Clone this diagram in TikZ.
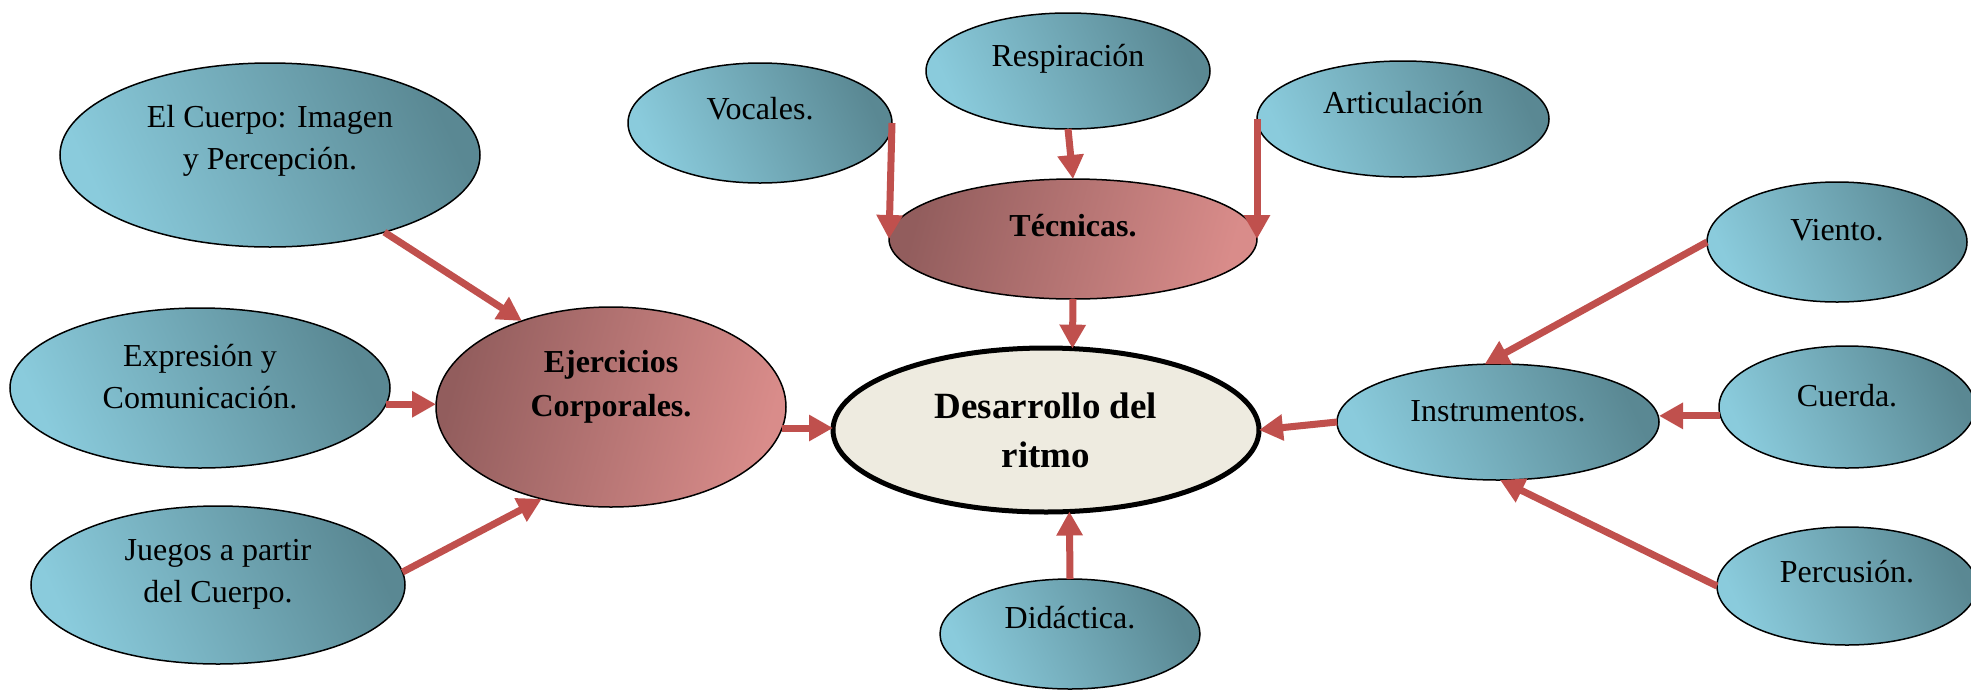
\documentclass[tikz,border=0pt]{standalone}
\usepackage{fontspec}
\setmainfont{Liberation Serif}
\usetikzlibrary{shapes.geometric,arrows.meta}
\definecolor{bluelt}{HTML}{8ACBDC}
\definecolor{bluedk}{HTML}{5A8893}
\definecolor{reddk}{HTML}{925D5D}
\definecolor{redlt}{HTML}{D98C8A}
\definecolor{cream}{HTML}{EEEBE0}
\definecolor{arrowred}{HTML}{C0504D}
\begin{document}
\begin{tikzpicture}[x=1pt,y=-1pt,
 ell/.style={ellipse, draw=black, line width=1.5pt, inner sep=0pt, outer sep=0pt},
 blueell/.style={ell, left color=bluelt, right color=bluedk, shading angle=115},
 redell/.style={ell, left color=reddk, right color=redlt, shading angle=75},
 lbl/.style={align=center, font=\fontsize{32}{42}\selectfont, inner sep=0pt},
 blbl/.style={align=center, font=\fontsize{32}{44}\selectfont\bfseries, inner sep=0pt},
 conn/.style={draw=arrowred, line width=7pt, -{Triangle[length=24pt,width=25pt]}},
]
\useasboundingbox (0,0) rectangle (1971,689);

% ellipses
\node[blueell, minimum width=420pt, minimum height=184pt] (cuerpo) at (270,155) {};
\node[blueell, minimum width=380pt, minimum height=160pt] (expresion) at (200,388) {};
\node[blueell, minimum width=374pt, minimum height=158pt] (juegos) at (218,585) {};
\node[redell, minimum width=350pt, minimum height=200pt] (ejercicios) at (611,407) {};
\node[blueell, minimum width=264pt, minimum height=120pt] (vocales) at (760,123) {};
\node[blueell, minimum width=284pt, minimum height=116pt] (respiracion) at (1068,71) {};
\node[blueell, minimum width=292pt, minimum height=116pt] (articulacion) at (1403,119) {};
\node[redell, minimum width=368pt, minimum height=120pt] (tecnicas) at (1073,239) {};
\node[ell, line width=5pt, fill=cream, minimum width=426pt, minimum height=164pt] (desarrollo) at (1046,430) {};
\node[blueell, minimum width=260pt, minimum height=110pt] (didactica) at (1070,634) {};
\node[blueell, minimum width=322pt, minimum height=116pt] (instrumentos) at (1498,422) {};
\node[blueell, minimum width=260pt, minimum height=120pt] (viento) at (1837,242) {};
\node[blueell, minimum width=256pt, minimum height=122pt] (cuerda) at (1847,407) {};
\node[blueell, minimum width=260pt, minimum height=118pt] (percusion) at (1847,586) {};

% texts
\node[lbl] (cuerpo-t) at ([yshift=14pt]cuerpo.center) {El Cuerpo: Imagen\\y Percepción.};
\node[lbl] (expresion-t) at ([yshift=11pt]expresion.center) {Expresión y\\Comunicación.};
\node[lbl] (juegos-t) at ([yshift=11pt]juegos.center) {Juegos a partir\\del Cuerpo.};
\node[blbl] (ejercicios-t) at ([yshift=20pt]ejercicios.center) {Ejercicios\\Corporales.};
\node[lbl] (vocales-t) at ([yshift=14pt]vocales.center) {Vocales.};
\node[lbl] (respiracion-t) at ([yshift=12pt]respiracion.center) {Respiración};
\node[lbl] (articulacion-t) at ([yshift=16pt]articulacion.center) {Articulación};
\node[blbl] (tecnicas-t) at ([yshift=13pt]tecnicas.center) {Técnicas.};
\node[align=center, inner sep=0pt, font=\fontsize{37}{49}\selectfont\bfseries] (desarrollo-t) at (desarrollo.center) {Desarrollo del\\ritmo};
\node[lbl] (didactica-t) at ([yshift=16pt]didactica.center) {Didáctica.};
\node[lbl] (instrumentos-t) at ([yshift=11pt]instrumentos.center) {Instrumentos.};
\node[lbl] (viento-t) at ([yshift=12pt]viento.center) {Viento.};
\node[lbl] (cuerda-t) at ([yshift=11pt]cuerda.center) {Cuerda.};
\node[lbl] (percusion-t) at ([yshift=14pt]percusion.center) {Percusión.};

% connectors
\draw[conn] (cuerpo.-34) -- (ejercicios.136);
\draw[conn] (expresion.-5) -- (expresion.-5 -| ejercicios.west);
\draw[conn] (juegos.4) -- (ejercicios.233);
\draw[conn] (ejercicios.-7) -- (ejercicios.-7 -| desarrollo.west);
\draw[conn] (vocales.east) -- (tecnicas.west);
\draw[conn] (respiracion.south) -- (tecnicas.north);
\draw[conn] (articulacion.west) -- (tecnicas.east);
\draw[conn] (tecnicas.south) -- (desarrollo.72);
\draw[conn] (didactica.north) -- (desarrollo.-74);
\draw[conn] (instrumentos.west) -- (desarrollo.east);
\draw[conn] (viento.west) -- (instrumentos.103);
\draw[conn] (cuerda.184) -- (cuerda.184 -| instrumentos.east);
\draw[conn] (percusion.west) -- (instrumentos.-88);
\end{tikzpicture}
\end{document}
